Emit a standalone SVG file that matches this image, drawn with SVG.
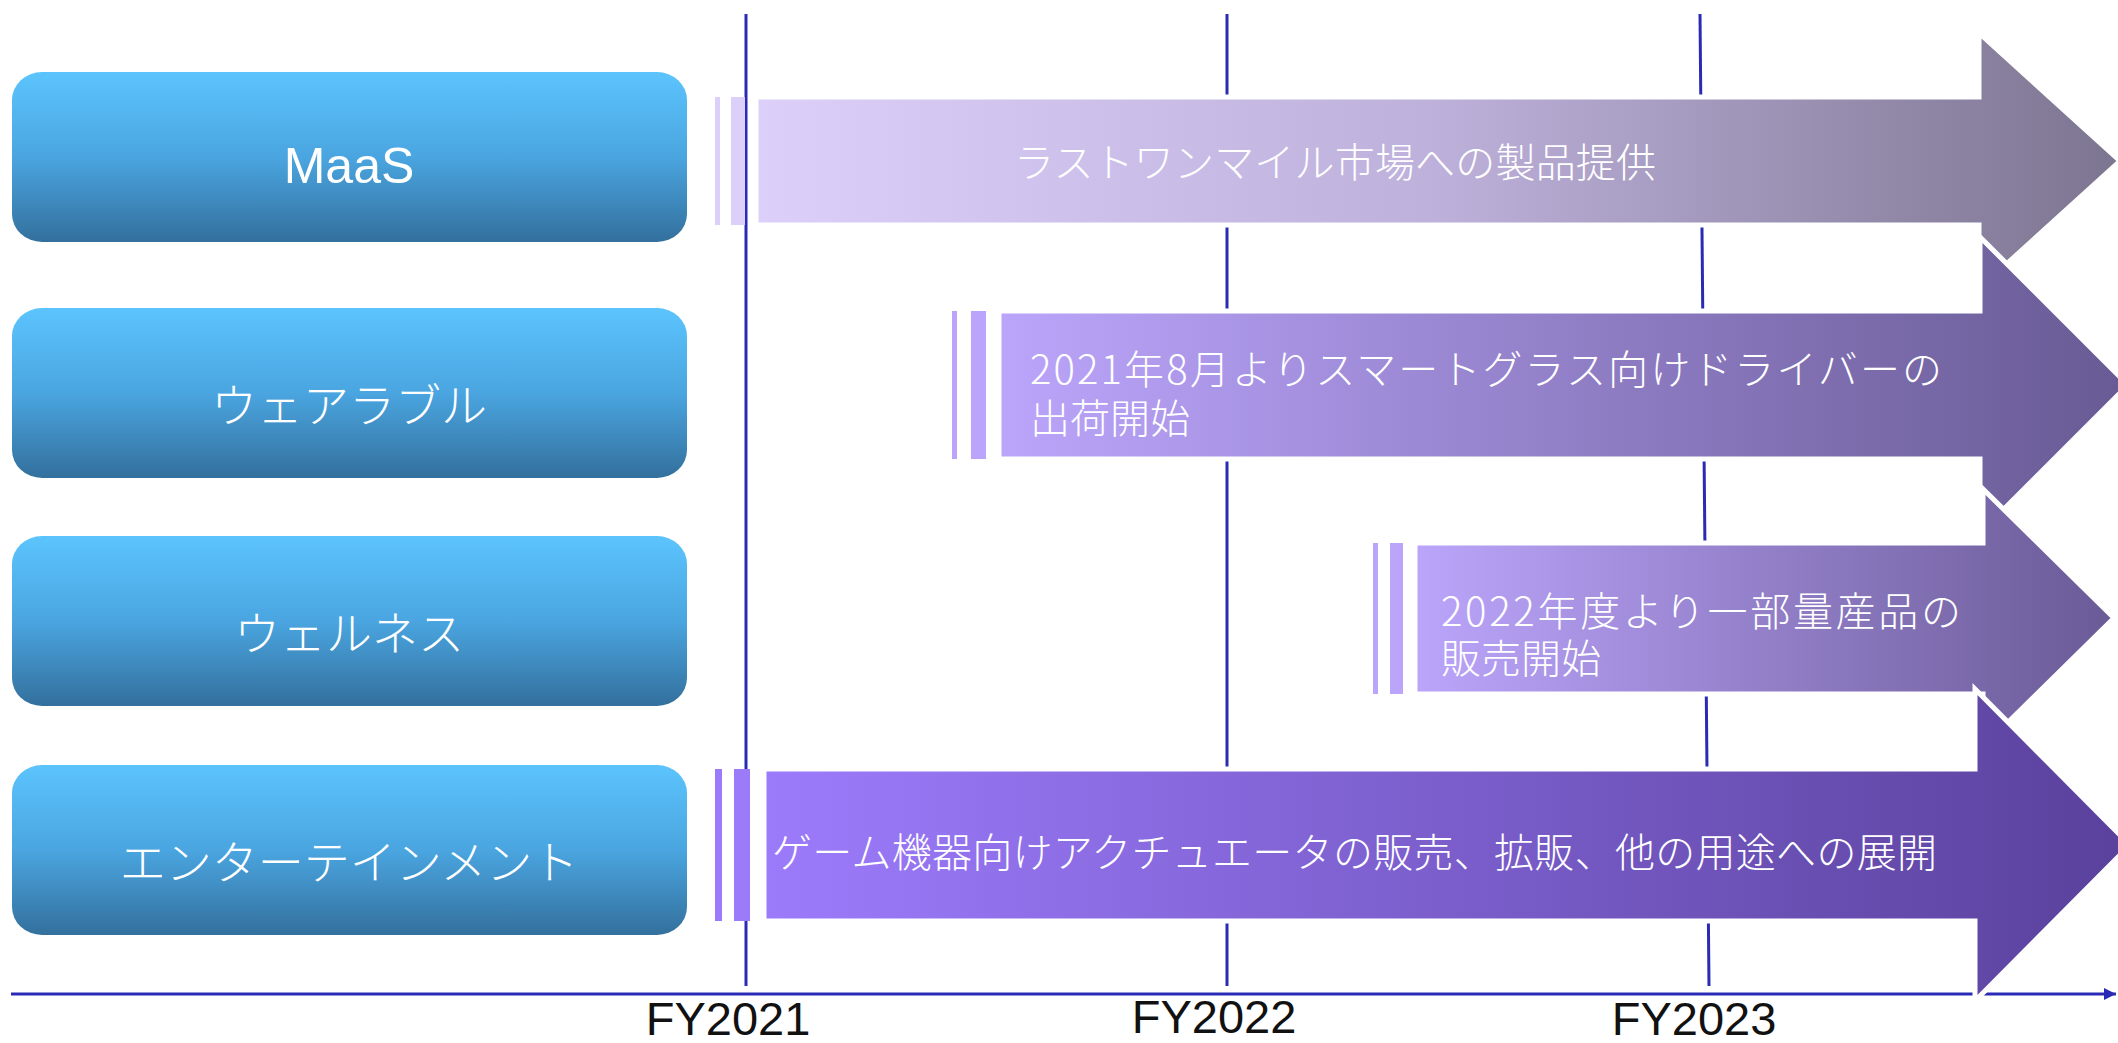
<svg xmlns="http://www.w3.org/2000/svg" width="2118" height="1043" viewBox="0 0 2118 1043">
<style>
.box{stroke:none}
.lbl{font-family:"Noto Sans CJK JP","Noto Sans",sans-serif;font-weight:300;font-size:46px;fill:#fff;text-anchor:middle}
.lat{font-family:"Liberation Sans",Arial,sans-serif;font-size:50px;fill:#fff;text-anchor:middle}
.atx{font-family:"Noto Sans CJK JP","Noto Sans",sans-serif;font-weight:300;font-size:40px;fill:#fff}
.fy{font-family:"Liberation Sans",Arial,sans-serif;font-size:47px;fill:#111;text-anchor:middle}
.vl{stroke:#2a2ab5;stroke-width:3;fill:none}
.ar{stroke:#fff;stroke-width:5;stroke-linejoin:miter}
</style>
<defs>
<linearGradient id="gBox" x1="0" y1="0" x2="0" y2="1">
<stop offset="0" stop-color="#5cc4fd"/>
<stop offset="0.5" stop-color="#4aa5e0"/>
<stop offset="1" stop-color="#33709d"/>
</linearGradient>
<linearGradient id="g1" x1="0" y1="0" x2="1" y2="0">
<stop offset="0" stop-color="#dcd0fb"/>
<stop offset="0.5" stop-color="#bdb0da"/>
<stop offset="1" stop-color="#7c7590"/>
</linearGradient>
<linearGradient id="g2" x1="0" y1="0" x2="1" y2="0">
<stop offset="0" stop-color="#bba5fb"/>
<stop offset="1" stop-color="#685a94"/>
</linearGradient>
<linearGradient id="g3" x1="0" y1="0" x2="1" y2="0">
<stop offset="0" stop-color="#bba5fb"/>
<stop offset="1" stop-color="#6a5a96"/>
</linearGradient>
<linearGradient id="g4" x1="0" y1="0" x2="1" y2="0">
<stop offset="0" stop-color="#9c7bfb"/>
<stop offset="1" stop-color="#5a419c"/>
</linearGradient>
<marker id="ah" viewBox="0 0 10 10" refX="10" refY="5" markerWidth="4" markerHeight="4" orient="auto" markerUnits="strokeWidth">
<path d="M0,0 L10,5 L0,10 Z" fill="#2a2ab5"/>
</marker>
</defs>

<g id="connectors">
<line class="vl" x1="746" y1="14" x2="746" y2="986"/>
<line class="vl" x1="1227" y1="14" x2="1227" y2="986"/>
<line class="vl" x1="1700" y1="14" x2="1709" y2="986"/>
<line class="vl" x1="11" y1="994" x2="2116" y2="994" marker-end="url(#ah)"/>
</g>

<g id="node-maas">
<rect class="box" x="12" y="72" width="675" height="170" rx="30" ry="28" fill="url(#gBox)"/>
<text class="lat" x="349" y="183">MaaS</text>
</g>
<g id="node-wearable">
<rect class="box" x="12" y="308" width="675" height="170" rx="30" ry="28" fill="url(#gBox)"/>
<text class="lbl" x="349" y="422">ウェアラブル</text>
</g>
<g id="node-wellness">
<rect class="box" x="12" y="536" width="675" height="170" rx="30" ry="28" fill="url(#gBox)"/>
<text class="lbl" x="349" y="650">ウェルネス</text>
</g>
<g id="node-entertainment">
<rect class="box" x="12" y="765" width="675" height="170" rx="30" ry="28" fill="url(#gBox)"/>
<text class="lbl" x="349" y="879">エンターテインメント</text>
</g>

<g id="arrow-maas">
<rect x="715" y="97" width="5" height="128" fill="#dcd0fb"/>
<rect x="731" y="97" width="14" height="128" fill="#dcd0fb"/>
<path class="ar" d="M756,97 H1979 V33 L2120,161 L1979,289 V225 H756 Z" fill="url(#g1)"/>
<text class="atx" x="1014" y="177" textLength="642" lengthAdjust="spacing">ラストワンマイル市場への製品提供</text>
</g>
<g id="arrow-wearable">
<rect x="952" y="311" width="5" height="148" fill="#bba5fb"/>
<rect x="971" y="311" width="15" height="148" fill="#bba5fb"/>
<path class="ar" d="M999,311 H1980 V237 L2128,385 L1980,533 V459 H999 Z" fill="url(#g2)"/>
<text class="atx"><tspan x="1030" y="384" textLength="912" lengthAdjust="spacing">2021年8月よりスマートグラス向けドライバーの</tspan><tspan x="1030" y="433">出荷開始</tspan></text>
</g>
<g id="arrow-wellness">
<rect x="1373" y="543" width="5" height="151" fill="#bba5fb"/>
<rect x="1390" y="543" width="13" height="151" fill="#bba5fb"/>
<path class="ar" d="M1415,543 H1983 V489 L2114,618 L1983,747 V694 H1415 Z" fill="url(#g3)"/>
<text class="atx"><tspan x="1441" y="626" textLength="520" lengthAdjust="spacing">2022年度より一部量産品の</tspan><tspan x="1441" y="673">販売開始</tspan></text>
</g>
<g id="arrow-entertainment">
<rect x="715" y="769" width="7" height="152" fill="#9c7bfb"/>
<rect x="734" y="769" width="16" height="152" fill="#9c7bfb"/>
<path class="ar" d="M764,769 H1975 V689 L2130,845 L1975,1001 V921 H764 Z" fill="url(#g4)"/>
<text class="atx" x="772" y="867" textLength="1165" lengthAdjust="spacing">ゲーム機器向けアクチュエータの販売、拡販、他の用途への展開</text>
</g>

<g id="labels">
<text class="fy" x="728" y="1035">FY2021</text>
<text class="fy" x="1214" y="1033">FY2022</text>
<text class="fy" x="1694" y="1035">FY2023</text>
</g>
</svg>
